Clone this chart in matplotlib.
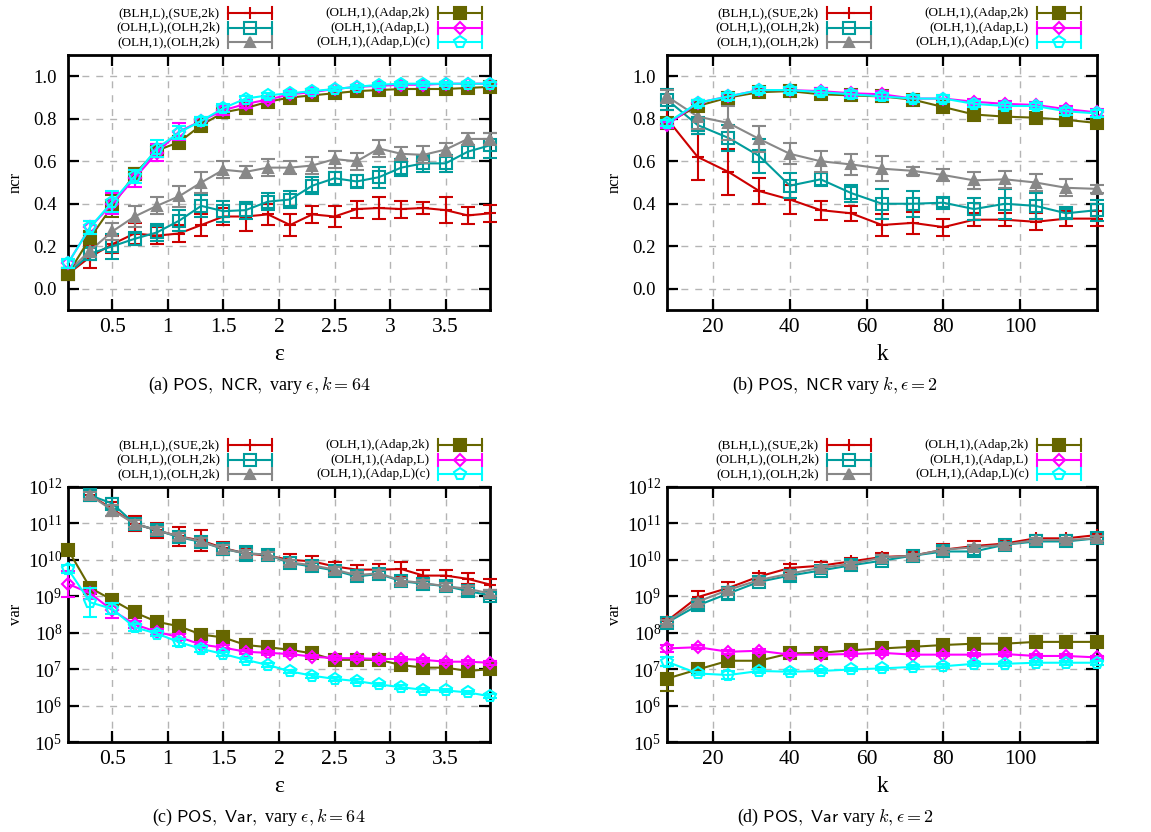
import numpy as np
import matplotlib
matplotlib.use("Agg")
import matplotlib.pyplot as plt
from matplotlib.ticker import LogLocator, NullFormatter, FixedLocator

W, H = 1151, 832

plt.rcParams["font.family"] = ["Liberation Serif", "DejaVu Serif"]
plt.rcParams["mathtext.fontset"] = "custom"
plt.rcParams["mathtext.rm"] = "Liberation Serif"
plt.rcParams["mathtext.it"] = "Liberation Serif:italic"
plt.rcParams["mathtext.sf"] = "Liberation Sans"

LABELS = ["(BLH,L),(SUE,2k)", "(OLH,L),(OLH,2k)", "(OLH,1),(OLH,2k)",
          "(OLH,1),(Adap,2k)", "(OLH,1),(Adap,L)", "(OLH,1),(Adap,L)(c)"]
COLORS = ["#cc0000", "#009c9c", "#888888", "#666600", "#ff00ff", "#00ffff"]
MARKERS = ["+", "s", "^", "s", "D", "p"]
FILLED = [True, False, True, True, False, False]
MSIZE = [9, 8, 7, 8, 6.5, 8.5]

eps = [0.1, 0.3, 0.5, 0.7, 0.9, 1.1, 1.3, 1.5, 1.7, 1.9,
       2.1, 2.3, 2.5, 2.7, 2.9, 3.1, 3.3, 3.5, 3.7, 3.9]
ks = [8, 16, 24, 32, 40, 48, 56, 64, 72, 80, 88, 96, 104, 112, 120]

# (a) ncr vs epsilon, k = 64
ncr_eps = [
    [0.07, 0.15, 0.21, 0.26, 0.25, 0.26, 0.30, 0.34, 0.34, 0.35, 0.30, 0.35, 0.34, 0.375, 0.38, 0.375, 0.38, 0.37, 0.345, 0.355],
    [0.07, 0.165, 0.20, 0.235, 0.265, 0.32, 0.39, 0.365, 0.37, 0.41, 0.42, 0.485, 0.52, 0.505, 0.525, 0.57, 0.59, 0.59, 0.645, 0.675],
    [0.08, 0.18, 0.27, 0.34, 0.39, 0.435, 0.50, 0.56, 0.55, 0.57, 0.57, 0.58, 0.61, 0.60, 0.66, 0.635, 0.63, 0.655, 0.705, 0.705],
    [0.07, 0.24, 0.39, 0.54, 0.65, 0.69, 0.77, 0.83, 0.85, 0.88, 0.90, 0.91, 0.92, 0.93, 0.935, 0.94, 0.94, 0.94, 0.945, 0.95],
    [0.12, 0.29, 0.40, 0.52, 0.64, 0.74, 0.79, 0.84, 0.87, 0.89, 0.915, 0.925, 0.94, 0.95, 0.955, 0.96, 0.96, 0.965, 0.965, 0.965],
    [0.12, 0.29, 0.41, 0.53, 0.66, 0.735, 0.79, 0.85, 0.895, 0.91, 0.92, 0.93, 0.94, 0.95, 0.96, 0.965, 0.965, 0.965, 0.965, 0.965],
]
ncr_eps_err = [
    [0.03, 0.05, 0.04, 0.05, 0.04, 0.04, 0.05, 0.04, 0.07, 0.05, 0.05, 0.04, 0.05, 0.04, 0.05, 0.04, 0.03, 0.06, 0.04, 0.04],
    [0.02, 0.03, 0.06, 0.03, 0.04, 0.05, 0.05, 0.05, 0.04, 0.04, 0.04, 0.04, 0.03, 0.03, 0.05, 0.04, 0.04, 0.04, 0.03, 0.06],
    [0.02, 0.03, 0.04, 0.05, 0.04, 0.05, 0.05, 0.04, 0.03, 0.04, 0.03, 0.04, 0.04, 0.04, 0.04, 0.03, 0.04, 0.03, 0.03, 0.03],
    [0.02, 0.03, 0.05, 0.03, 0.03, 0.03, 0.03, 0.02, 0.02, 0.01, 0.01, 0.01, 0.01, 0.01, 0.01, 0.01, 0.01, 0.01, 0.01, 0.01],
    [0.02, 0.03, 0.05, 0.04, 0.04, 0.04, 0.02, 0.02, 0.02, 0.01, 0.01, 0.01, 0.01, 0.01, 0.01, 0.01, 0.01, 0.01, 0.01, 0.01],
    [0.02, 0.03, 0.05, 0.03, 0.04, 0.03, 0.02, 0.02, 0.01, 0.01, 0.01, 0.01, 0.01, 0.01, 0.01, 0.01, 0.01, 0.01, 0.01, 0.01],
]

# (b) ncr vs k, epsilon = 2
ncr_k = [
    [0.80, 0.62, 0.55, 0.46, 0.42, 0.37, 0.355, 0.30, 0.31, 0.29, 0.325, 0.325, 0.315, 0.33, 0.33],
    [0.89, 0.77, 0.71, 0.625, 0.485, 0.515, 0.45, 0.40, 0.40, 0.405, 0.375, 0.40, 0.39, 0.355, 0.37],
    [0.905, 0.81, 0.78, 0.705, 0.635, 0.60, 0.585, 0.565, 0.555, 0.535, 0.51, 0.515, 0.50, 0.475, 0.47],
    [0.78, 0.86, 0.90, 0.925, 0.93, 0.915, 0.91, 0.905, 0.89, 0.855, 0.82, 0.81, 0.805, 0.795, 0.78],
    [0.77, 0.875, 0.905, 0.935, 0.935, 0.93, 0.92, 0.915, 0.895, 0.895, 0.88, 0.87, 0.865, 0.845, 0.83],
    [0.78, 0.875, 0.905, 0.935, 0.935, 0.925, 0.915, 0.905, 0.895, 0.895, 0.87, 0.86, 0.86, 0.835, 0.825],
]
ncr_k_err = [
    [0.04, 0.11, 0.11, 0.06, 0.07, 0.045, 0.035, 0.05, 0.05, 0.04, 0.03, 0.03, 0.04, 0.035, 0.035],
    [0.05, 0.04, 0.06, 0.08, 0.06, 0.03, 0.04, 0.07, 0.06, 0.02, 0.05, 0.07, 0.06, 0.02, 0.05],
    [0.03, 0.06, 0.08, 0.06, 0.05, 0.05, 0.05, 0.06, 0.02, 0.03, 0.04, 0.04, 0.04, 0.04, 0.02],
    [0.015, 0.015, 0.015, 0.015, 0.015, 0.015, 0.015, 0.015, 0.015, 0.015, 0.015, 0.015, 0.015, 0.015, 0.015],
    [0.015, 0.015, 0.015, 0.015, 0.015, 0.015, 0.015, 0.015, 0.015, 0.015, 0.015, 0.015, 0.015, 0.015, 0.015],
    [0.015, 0.015, 0.015, 0.015, 0.015, 0.015, 0.015, 0.015, 0.015, 0.015, 0.015, 0.015, 0.015, 0.015, 0.015],
]

nan = float("nan")
# (c) variance vs epsilon, k = 64
var_eps = [
    [nan, 5.9e11, 2.5e11, 9.8e10, 6.5e10, 4.4e10, 3.4e10, 2.1e10, 1.5e10, 1.3e10,
     1.0e10, 9.1e9, 6.6e9, 5.4e9, 5.4e9, 5.6e9, 3.7e9, 3.7e9, 3.0e9, 2.1e9],
    [nan, 5.9e11, 3.5e11, 9.8e10, 6.5e10, 4.2e10, 3.1e10, 2.0e10, 1.5e10, 1.4e10,
     8.1e9, 6.6e9, 5.1e9, 3.5e9, 4.1e9, 2.6e9, 2.2e9, 1.9e9, 1.4e9, 1.05e9],
    [nan, 5.9e11, 2.3e11, 9.8e10, 6.5e10, 4.4e10, 3.2e10, 2.0e10, 1.5e10, 1.4e10,
     8.5e9, 7.1e9, 5.4e9, 3.8e9, 4.3e9, 2.7e9, 2.3e9, 1.9e9, 1.6e9, 1.2e9],
    [1.9e10, 1.7e9, 7.9e8, 3.6e8, 2.0e8, 1.5e8, 8.9e7, 7.4e7, 4.6e7, 4.0e7,
     3.4e7, 2.7e7, 1.8e7, 1.8e7, 1.8e7, 1.3e7, 1.1e7, 1.1e7, 8.9e6, 1.0e7],
    [2.2e9, 1.2e9, 4.1e8, 1.7e8, 1.05e8, 7.6e7, 4.7e7, 3.9e7, 3.0e7, 2.8e7,
     2.6e7, 2.2e7, 2.0e7, 2.0e7, 1.9e7, 1.9e7, 1.8e7, 1.6e7, 1.6e7, 1.5e7],
    [5.6e9, 6.8e8, 4.5e8, 1.4e8, 9.5e7, 5.5e7, 3.6e7, 2.6e7, 1.8e7, 1.3e7,
     8.7e6, 6.6e6, 5.4e6, 4.7e6, 3.8e6, 3.2e6, 2.7e6, 2.6e6, 2.3e6, 1.8e6],
]
# error half-widths in decades
var_eps_err = [
    [nan, 0.15, 0.2, 0.2, 0.2, 0.25, 0.28, 0.18, 0.15, 0.12, 0.15, 0.15, 0.12, 0.12, 0.15, 0.2, 0.15, 0.15, 0.15, 0.15],
    [nan, 0.12, 0.15, 0.12, 0.12, 0.12, 0.12, 0.12, 0.2, 0.1, 0.1, 0.1, 0.1, 0.1, 0.08, 0.08, 0.08, 0.1, 0.1, 0.1],
    [nan, 0.1, 0.15, 0.1, 0.1, 0.1, 0.1, 0.1, 0.1, 0.08, 0.08, 0.08, 0.08, 0.08, 0.08, 0.08, 0.08, 0.08, 0.08, 0.08],
    [0.1, 0.1, 0.06, 0.06, 0.06, 0.06, 0.05, 0.05, 0.05, 0.05, 0.05, 0.05, 0.05, 0.05, 0.05, 0.05, 0.05, 0.05, 0.05, 0.05],
    [0.35, 0.15, 0.2, 0.1, 0.08, 0.08, 0.06, 0.06, 0.06, 0.06, 0.06, 0.05, 0.05, 0.05, 0.05, 0.05, 0.05, 0.05, 0.05, 0.05],
    [0.1, 0.4, 0.15, 0.1, 0.08, 0.1, 0.08, 0.06, 0.06, 0.06, 0.05, 0.05, 0.05, 0.05, 0.05, 0.05, 0.05, 0.05, 0.05, 0.05],
]

# (d) variance vs k, epsilon = 2
var_k = [
    [2.1e8, 9.5e8, 1.7e9, 3.5e9, 6.0e9, 6.9e9, 9.1e9, 1.2e10, 1.3e10, 1.9e10, 2.4e10, 2.8e10, 3.9e10, 3.9e10, 4.8e10],
    [1.9e8, 5.6e8, 1.2e9, 2.5e9, 3.7e9, 5.1e9, 7.1e9, 9.5e9, 1.3e10, 1.7e10, 1.7e10, 2.6e10, 3.2e10, 3.2e10, 3.9e10],
    [2.0e8, 7.1e8, 1.5e9, 2.8e9, 4.2e9, 6.0e9, 7.8e9, 1.15e10, 1.3e10, 1.9e10, 2.2e10, 2.6e10, 3.5e10, 3.5e10, 3.9e10],
    [5.5e6, 9.8e6, 1.7e7, 1.7e7, 2.7e7, 2.8e7, 3.3e7, 3.7e7, 4.1e7, 4.6e7, 5.0e7, 5.0e7, 5.6e7, 5.6e7, 5.6e7],
    [3.7e7, 4.0e7, 3.0e7, 3.2e7, 2.5e7, 2.5e7, 2.6e7, 2.8e7, 2.5e7, 2.5e7, 2.5e7, 2.6e7, 2.3e7, 2.3e7, 2.1e7],
    [1.6e7, 7.6e6, 6.9e6, 8.9e6, 8.5e6, 8.9e6, 9.8e6, 1.05e7, 1.15e7, 1.2e7, 1.4e7, 1.4e7, 1.5e7, 1.5e7, 1.5e7],
]
var_k_err = [
    [0.08, 0.17, 0.15, 0.1, 0.12, 0.1, 0.1, 0.12, 0.1, 0.15, 0.15, 0.08, 0.08, 0.08, 0.06],
    [0.08, 0.1, 0.17, 0.1, 0.15, 0.1, 0.12, 0.1, 0.06, 0.12, 0.1, 0.08, 0.08, 0.08, 0.06],
    [0.06, 0.06, 0.06, 0.06, 0.06, 0.06, 0.06, 0.06, 0.06, 0.06, 0.06, 0.06, 0.06, 0.06, 0.06],
    [0.35, 0.06, 0.06, 0.06, 0.06, 0.06, 0.05, 0.05, 0.05, 0.05, 0.05, 0.05, 0.05, 0.05, 0.05],
    [0.1, 0.05, 0.05, 0.05, 0.05, 0.05, 0.05, 0.05, 0.05, 0.05, 0.05, 0.05, 0.05, 0.05, 0.05],
    [0.12, 0.05, 0.1, 0.05, 0.05, 0.05, 0.05, 0.05, 0.05, 0.05, 0.05, 0.05, 0.05, 0.05, 0.05],
]

CAPTIONS = [
    r"(a) $\mathsf{POS,\ NCR,}$ vary $\epsilon, k = 64$",
    r"(b) $\mathsf{POS,\ NCR}$ vary $k, \epsilon = 2$",
    r"(c) $\mathsf{POS,\ Var,}$ vary $\epsilon, k = 64$",
    r"(d) $\mathsf{POS,\ Var}$ vary $k, \epsilon = 2$",
]

# panel boxes in pixels: left, right, top, bottom
BOXES = [(68, 490, 55, 310), (667, 1097, 55, 310),
         (68, 490, 487, 742), (667, 1097, 487, 742)]
CAP_X = [259, 835, 259, 835]


def px_axes(box):
    l, r, t, b = box
    return fig.add_axes([l / W, 1 - b / H, (r - l) / W, (b - t) / H])


def style_axes(ax, log):
    for s in ax.spines.values():
        s.set_linewidth(2)
    ax.set_axisbelow(True)
    ax.grid(True, which="major", color="#b4b4b4", lw=1, linestyle=(0, (5, 5)))
    ax.tick_params(which="major", direction="in", length=8, width=1.6,
                   top=True, right=True)
    ax.tick_params(axis="x", labelsize=15.5, pad=6)
    ax.tick_params(axis="y", labelsize=14 if log else 13.5, pad=4 if log else 8)
    if log:
        ax.tick_params(which="minor", direction="in", length=4, width=1.2,
                       left=True, right=True)


def draw(ax, x, ys, errs, log):
    for i, (y, e) in enumerate(zip(ys, errs)):
        y = np.array(y, float)
        e = np.array(e, float)
        if log:
            yerr = [y - y / 10 ** e, y * 10 ** e - y]
        else:
            yerr = e
        c = COLORS[i]
        cont = ax.errorbar(x, y, yerr=yerr, color=c, lw=1.5, elinewidth=1.5,
                           capsize=5, capthick=1.5, marker=MARKERS[i],
                           ms=MSIZE[i], mew=1.5,
                           mfc=c if FILLED[i] else "none", mec=c, zorder=3 + i)
        for art in cont.get_children():
            art.set_clip_on(False)


def draw_legend(lax, x0, y0):
    for i, lab in enumerate(LABELS):
        col, row = divmod(i, 3)
        tx = x0 + (152 if col == 0 else 362)
        y = y0 - 42 + 14.5 * row
        xa, xb = tx + 8, tx + 52
        c = COLORS[i]
        lax.plot([xa, xb], [y, y], color=c, lw=1.5)
        lax.plot([xa, xa], [y - 6, y + 6], color=c, lw=1.5)
        lax.plot([xb, xb], [y - 6, y + 6], color=c, lw=1.5)
        lax.plot([(xa + xb) / 2], [y], marker=MARKERS[i], color=c, ms=MSIZE[i],
                 mew=1.5, mfc=c if FILLED[i] else "none", mec=c)
        lax.text(tx, y, lab, ha="right", va="center", fontsize=9.5)


fig = plt.figure(figsize=(W / 100, H / 100), dpi=100)

panels = [(eps, ncr_eps, ncr_eps_err, False, "\u03b5", "ncr"),
          (ks, ncr_k, ncr_k_err, False, "k", "ncr"),
          (eps, var_eps, var_eps_err, True, "\u03b5", "var"),
          (ks, var_k, var_k_err, True, "k", "var")]

lax = fig.add_axes([0, 0, 1, 1])
lax.set_xlim(0, W)
lax.set_ylim(H, 0)
lax.axis("off")

for n, (x, ys, errs, log, xl, yl) in enumerate(panels):
    box = BOXES[n]
    ax = px_axes(box)
    style_axes(ax, log)
    draw(ax, x, ys, errs, log)
    ax.set_xlim(x[0], x[-1])
    if x is eps:
        ax.set_xticks([0.5, 1, 1.5, 2, 2.5, 3, 3.5])
        ax.set_xticklabels(["0.5", "1", "1.5", "2", "2.5", "3", "3.5"])
    else:
        ax.set_xticks([20, 40, 60, 80, 100])
    if log:
        ax.set_yscale("log")
        ax.set_ylim(1e5, 1e12)
        ax.yaxis.set_major_locator(FixedLocator([10.0 ** p for p in range(5, 13)]))
        ax.yaxis.set_minor_locator(LogLocator(base=10, subs=np.arange(2, 10)))
        ax.yaxis.set_minor_formatter(NullFormatter())
    else:
        ax.set_ylim(-0.1, 1.1)
        ax.set_yticks([0.0, 0.2, 0.4, 0.6, 0.8, 1.0])
        ax.set_yticklabels(["0.0", "0.2", "0.4", "0.6", "0.8", "1.0"])
    l, r, t, b = box
    fig.text(((l + r) / 2) / W, 1 - (b + 45) / H, xl, ha="center", va="center",
             fontsize=17)
    fig.text((l - 52) / W, 1 - ((t + b) / 2) / H, yl, ha="center", va="center",
             rotation=90, fontsize=12)
    fig.text(CAP_X[n] / W, 1 - (b + 75) / H, CAPTIONS[n], ha="center",
             va="center", fontsize=13, math_fontfamily="cm")
    draw_legend(lax, l, t)

fig.savefig("out.png", dpi=100)
